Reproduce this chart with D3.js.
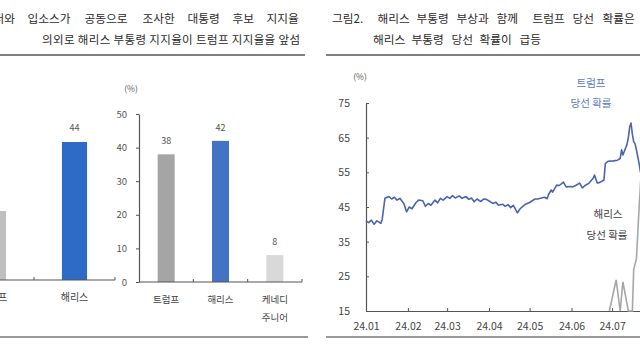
<!DOCTYPE html>
<html><head><meta charset="utf-8">
<script src="https://cdn.jsdelivr.net/npm/d3@7"></script>
<style>
html,body{margin:0;padding:0;background:#fff;}
svg{display:block;font-family:"Noto Sans CJK KR","Noto Sans",sans-serif;}
</style></head>
<body>
<svg id="c" width="640" height="360"></svg>
<script>
// ---------- data ----------
const titleLeft1 = ["그림1.", "로이터와", "입소스가", "공동으로", "조사한", "대통령", "후보", "지지율"];
const titleLeft2 = "의외로 해리스 부통령 지지율이 트럼프 지지율을 앞섬";
const titleRight1 = ["그림2.", "해리스", "부통령", "부상과", "함께", "트럼프", "당선", "확률은"];
const titleRight2 = ["해리스", "부통령", "당선", "확률이", "급등"];

const poll1Categories = ["트럼프", "해리스"];
const poll1Values = [42, 44];

const poll2Categories = ["트럼프", "해리스", "케네디 주니어"];
const poll2Values = [38, 42, 8];
const poll2Ticks = [0, 10, 20, 30, 40, 50];

const probTicks = [15, 25, 35, 45, 55, 65, 75];
const trumpDates = ["2024-01-01","2024-01-03","2024-01-05","2024-01-07","2024-01-09","2024-01-12","2024-01-13","2024-01-15","2024-01-18","2024-01-20","2024-01-22","2024-01-24","2024-01-26","2024-01-29","2024-01-31",
"2024-02-02","2024-02-04","2024-02-07","2024-02-09","2024-02-12","2024-02-14","2024-02-16","2024-02-18","2024-02-21","2024-02-23","2024-02-25","2024-02-27",
"2024-03-01","2024-03-03","2024-03-05","2024-03-07","2024-03-10","2024-03-12","2024-03-15","2024-03-17","2024-03-19","2024-03-21","2024-03-23","2024-03-26","2024-03-28","2024-03-30",
"2024-04-02","2024-04-04","2024-04-06","2024-04-08","2024-04-11","2024-04-13","2024-04-15","2024-04-17","2024-04-19","2024-04-22","2024-04-24","2024-04-26","2024-04-28",
"2024-05-01","2024-05-03","2024-05-05","2024-05-07","2024-05-09","2024-05-12","2024-05-14","2024-05-15","2024-05-17","2024-05-18","2024-05-21","2024-05-23","2024-05-26","2024-05-28","2024-05-31",
"2024-06-02","2024-06-04","2024-06-07","2024-06-09","2024-06-11","2024-06-14","2024-06-17","2024-06-18","2024-06-20","2024-06-22","2024-06-25","2024-06-26","2024-06-28",
"2024-07-02","2024-07-05","2024-07-07","2024-07-08","2024-07-09","2024-07-10","2024-07-11","2024-07-12","2024-07-13","2024-07-14","2024-07-15","2024-07-16","2024-07-17","2024-07-18","2024-07-19","2024-07-20","2024-07-21","2024-07-22"];
const trumpValues = [41,40.5,41.2,40,41,40.3,41.5,47.5,48,47.3,47.8,47,47.5,46,43.6,
45,44.5,46.3,47,46.8,45.2,46,45.5,47,46.2,47.5,47,
48,47.5,48.3,47.6,48.2,47.5,48,47.2,47.6,46.5,47.3,46.6,47.3,47.2,
46.5,46,46.4,45.5,45.8,45.2,45.7,44.8,45.5,43.3,44.5,45.2,45.8,
46.3,46.8,47.3,47.3,47.5,47.8,47.4,48.6,49.9,49.3,51.3,51.2,52.2,50.8,50.9,
50.8,51.2,51.9,50.5,51.2,51.9,53.3,54.2,51.9,52.1,52.8,57.5,58.2,
58.3,58.5,59,61.5,60,61,62,63,65,68,69.2,66,63.8,63.2,61.5,59.5,57.5,55];

const harrisDates = ["2024-06-29","2024-07-04","2024-07-07","2024-07-09","2024-07-13","2024-07-16","2024-07-17","2024-07-19","2024-07-21","2024-07-23"];
const harrisValues = [15,24,15,23.4,15,15,27,30,45,58];

// ---------- drawing ----------
const svg = d3.select("#c");
svg.append("rect").attr("width",640).attr("height",360).attr("fill","#fff");

const titleColor = "#2b2b2b";
function wordLine(words, xs, y){
  const t = svg.append("text").attr("y",y).attr("font-size",11.7).attr("fill",titleColor);
  t.selectAll("tspan").data(words).join("tspan").attr("x",(d,i)=>xs[i]).text(d=>d);
  return t;
}
// left title
wordLine(titleLeft1, [-78,-28,27.5,84.5,142.5,187.5,232.5,266.5], 23);
svg.append("text").attr("x",42).attr("y",44).attr("font-size",11.5).attr("fill",titleColor)
  .attr("textLength",258).attr("lengthAdjust","spacing").text(titleLeft2);
// right title
wordLine(titleRight1, [332,377.5,416.5,456.5,496.5,532.5,572.5,602.5], 23);
wordLine(titleRight2, [373,411.5,451.5,479.5,519.5], 44);
// rules
svg.append("line").attr("x1",0).attr("x2",305).attr("y1",55).attr("y2",55).attr("stroke","#555").attr("stroke-width",1.6);
svg.append("line").attr("x1",326).attr("x2",640).attr("y1",55).attr("y2",55).attr("stroke","#555").attr("stroke-width",1.6);
svg.append("line").attr("x1",0).attr("x2",308).attr("y1",337).attr("y2",337).attr("stroke","#777").attr("stroke-width",1.4);
svg.append("line").attr("x1",326).attr("x2",640).attr("y1",337).attr("y2",337).attr("stroke","#777").attr("stroke-width",1.4);

const axisColor = "#555";
const labelColor = "#555";

// ---- chart 1 (partially visible) ----
{
  const x = d3.scaleBand().domain(poll1Categories).range([-47,115]).paddingInner(0.69).paddingOuter(0.345);
  const y = d3.scaleLinear().domain([40,45]).range([280,107.5]);
  const colors = ["#bfbfbf","#2e6bc6"];
  const g = svg.append("g");
  g.selectAll("rect").data(poll1Values).join("rect")
    .attr("x",(d,i)=>x(poll1Categories[i])).attr("width",x.bandwidth())
    .attr("y",d=>y(d)).attr("height",d=>y(40)-y(d)).attr("fill",(d,i)=>colors[i]);
  g.selectAll("text.v").data(poll1Values).join("text").attr("class","v")
    .attr("x",(d,i)=>x(poll1Categories[i])+x.bandwidth()/2).attr("y",d=>y(d)-11)
    .attr("text-anchor","middle").attr("font-size",9).attr("fill",labelColor).text(d=>d);
  g.append("line").attr("x1",x.range()[0]).attr("x2",x.range()[1]).attr("y1",280).attr("y2",280).attr("stroke",axisColor).attr("stroke-width",1.2);
  const bounds = poll1Categories.map(c=>x(c)-x.step()*x.paddingInner()/2+x.step());
  g.selectAll("line.t").data(bounds).join("line").attr("class","t")
    .attr("x1",d=>d).attr("x2",d=>d).attr("y1",277).attr("y2",280).attr("stroke",axisColor);
  g.selectAll("text.c").data(poll1Categories).join("text").attr("class","c")
    .attr("x",c=>x(c)+x.bandwidth()/2).attr("y",301).attr("text-anchor","middle")
    .attr("font-size",10).attr("fill","#444").text(c=>c);
}

// ---- chart 2 ----
{
  const x = d3.scaleBand().domain(poll2Categories).range([139,302]).paddingInner(0.687).paddingOuter(0.3435);
  const y = d3.scaleLinear().domain([0,50]).range([282,114]);
  const colors = ["#a5a5a5","#4472c4","#d9d9d9"];
  const g = svg.append("g");
  g.selectAll("rect").data(poll2Values).join("rect")
    .attr("x",(d,i)=>x(poll2Categories[i])).attr("width",x.bandwidth())
    .attr("y",d=>y(d)).attr("height",d=>y(0)-y(d)).attr("fill",(d,i)=>colors[i]);
  g.selectAll("text.v").data(poll2Values).join("text").attr("class","v")
    .attr("x",(d,i)=>x(poll2Categories[i])+x.bandwidth()/2).attr("y",d=>y(d)-10)
    .attr("text-anchor","middle").attr("font-size",9).attr("fill",labelColor).text(d=>d);
  const ay = g.append("g").attr("transform","translate(139,0)")
    .call(d3.axisLeft(y).tickValues(poll2Ticks).tickSize(3).tickSizeOuter(0).tickPadding(9));
  ay.select(".domain").attr("stroke",axisColor).attr("stroke-width",1.2);
  ay.selectAll(".tick line").attr("stroke",axisColor);
  ay.selectAll(".tick text").attr("font-size",9.5).attr("fill",labelColor).attr("font-family","'Noto Sans CJK KR',sans-serif");
  g.append("line").attr("x1",139).attr("x2",302).attr("y1",282).attr("y2",282).attr("stroke",axisColor).attr("stroke-width",1.2);
  const bounds = poll2Categories.map(c=>x(c)-x.step()*x.paddingInner()/2+x.step());
  g.selectAll("line.t").data(bounds).join("line").attr("class","t")
    .attr("x1",d=>d).attr("x2",d=>d).attr("y1",279).attr("y2",282).attr("stroke",axisColor);
  g.selectAll("text.c").data(poll2Categories).join("text").attr("class","c")
    .attr("x",c=>x(c)+x.bandwidth()/2).attr("y",303).attr("text-anchor","middle")
    .attr("font-size",9.5).attr("fill","#444")
    .each(function(c){
      const parts = c.split(" ");
      d3.select(this).selectAll("tspan").data(parts).join("tspan")
        .attr("x",x(c)+x.bandwidth()/2).attr("dy",(p,i)=>i?18:0).text(p=>p);
    });
  g.append("text").attr("x",131).attr("y",92).attr("text-anchor","middle").attr("font-size",8.5).attr("fill",labelColor).text("(%)");
}

// ---- chart 3 ----
{
  const parse = d3.timeParse("%Y-%m-%d");
  const x = d3.scaleTime().domain([parse("2024-01-01"),parse("2024-08-01")]).range([366,654]);
  const y = d3.scaleLinear().domain([15,75]).range([311,103]);
  const g = svg.append("g");
  const ay = g.append("g").attr("transform","translate(366,0)")
    .call(d3.axisLeft(y).tickValues(probTicks).tickSize(-3).tickSizeOuter(0).tickPadding(16));
  ay.select(".domain").attr("stroke",axisColor).attr("stroke-width",1.2);
  ay.selectAll(".tick line").attr("stroke",axisColor);
  ay.selectAll(".tick text").attr("font-size",10.5).attr("fill","#444").attr("font-family","'Noto Sans CJK KR',sans-serif");
  const ax = g.append("g").attr("transform","translate(0,311)")
    .call(d3.axisBottom(x).ticks(d3.timeMonth.every(1)).tickFormat(d3.timeFormat("%y.%m")).tickSize(-3).tickSizeOuter(0).tickPadding(12));
  ax.select(".domain").attr("stroke",axisColor).attr("stroke-width",1.2);
  ax.selectAll(".tick line").attr("stroke",axisColor);
  ax.selectAll(".tick text").attr("font-size",10.5).attr("fill","#444").attr("font-family","'Noto Sans CJK KR',sans-serif");

  const line = d3.line().x(d=>x(d[0])).y(d=>y(d[1]));
  const harris = harrisDates.map((d,i)=>[parse(d),harrisValues[i]]);
  const trump = trumpDates.map((d,i)=>[parse(d),trumpValues[i]]);
  g.append("path").datum(harris).attr("d",line).attr("fill","none").attr("stroke","#a6a6a6").attr("stroke-width",1.6);
  g.append("path").datum(trump).attr("d",line).attr("fill","none").attr("stroke","#4a64b0").attr("stroke-width",1.6).attr("stroke-linejoin","round");

  g.append("text").attr("x",360).attr("y",80).attr("text-anchor","middle").attr("font-size",8.5).attr("fill",labelColor).text("(%)");
  const tl = g.append("text").attr("text-anchor","middle").attr("font-size",10.5).attr("fill","#5b78c6");
  tl.append("tspan").attr("x",591).attr("y",87).text("트럼프");
  tl.append("tspan").attr("x",591).attr("y",107).text("당선 확률");
  const hl = g.append("text").attr("text-anchor","middle").attr("font-size",10.5).attr("fill","#404040");
  hl.append("tspan").attr("x",608).attr("y",218).text("해리스");
  hl.append("tspan").attr("x",607).attr("y",239).text("당선 확률");
}
</script>
</body></html>
